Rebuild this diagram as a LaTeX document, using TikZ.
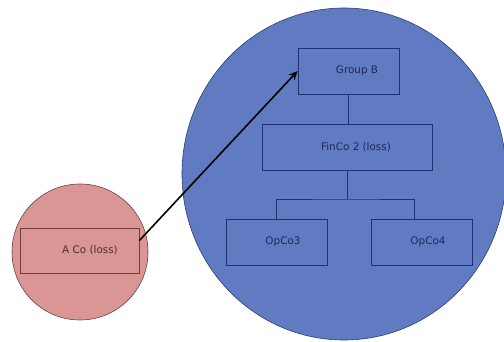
\documentclass[tikz,border=0pt]{standalone}
\usepackage{fontspec}
\setmainfont{DejaVu Sans}
\usetikzlibrary{arrows.meta}
\definecolor{bluefill}{RGB}{97,123,194}
\definecolor{blueedge}{RGB}{45,60,110}
\definecolor{navy}{RGB}{30,50,115}
\definecolor{navytext}{RGB}{30,40,90}
\definecolor{pinkfill}{RGB}{217,150,148}
\definecolor{pinkedge}{RGB}{110,60,60}
\definecolor{browntext}{RGB}{80,45,45}
\tikzset{
  entity/.style={draw=navy, line width=0.8pt, inner sep=0pt, minimum height=46pt,
    text=navytext, font=\fontsize{10.4}{12}\selectfont},
  lossbox/.style={draw=pinkedge, line width=0.8pt, inner sep=0pt, minimum height=45pt,
    text=browntext, font=\fontsize{10.4}{12}\selectfont},
  tie/.style={draw=navy, line width=0.8pt},
  transfer/.style={draw=black, line width=1.6pt, -{Stealth[length=9pt,width=8pt]}}
}
\begin{document}
\begin{tikzpicture}[x=1pt,y=-1pt]
  \useasboundingbox (0,0) rectangle (504,342);
  % groups drawn as circles
  \path[fill=bluefill, draw=blueedge, line width=0.6pt] (344,174) ellipse [x radius=162, y radius=166];
  \path[fill=pinkfill, draw=pinkedge, line width=0.6pt] (80,252) circle [radius=68];

  % entities
  \node[entity, minimum width=101pt] (groupb) at (348.5,71) {\hspace*{17pt}Group B};
  \node[entity, minimum width=170pt] (finco) at (347,147) {\hspace*{18pt}FinCo 2 (loss)};
  \node[entity, minimum width=101pt] (opco3) at (276.5,242) {\hspace*{13pt}OpCo3};
  \node[entity, minimum width=101pt] (opco4) at (421.5,242) {\hspace*{13pt}OpCo4};
  \node[lossbox, minimum width=119pt] (aco) at (79.5,250.5) {\hspace*{21pt}A Co (loss)};

  % ownership lines
  \coordinate (bar) at (347,199);
  \draw[tie] (groupb.south) -- (groupb.south |- finco.north);
  \draw[tie] (finco.south) -- (bar);
  \draw[tie] (opco3.north) |- (bar) -| ([xshift=-7.5pt]opco4.north);

  % loss transfer
  \draw[transfer] ([yshift=10pt]aco.east) -- (groupb.west);
\end{tikzpicture}
\end{document}
